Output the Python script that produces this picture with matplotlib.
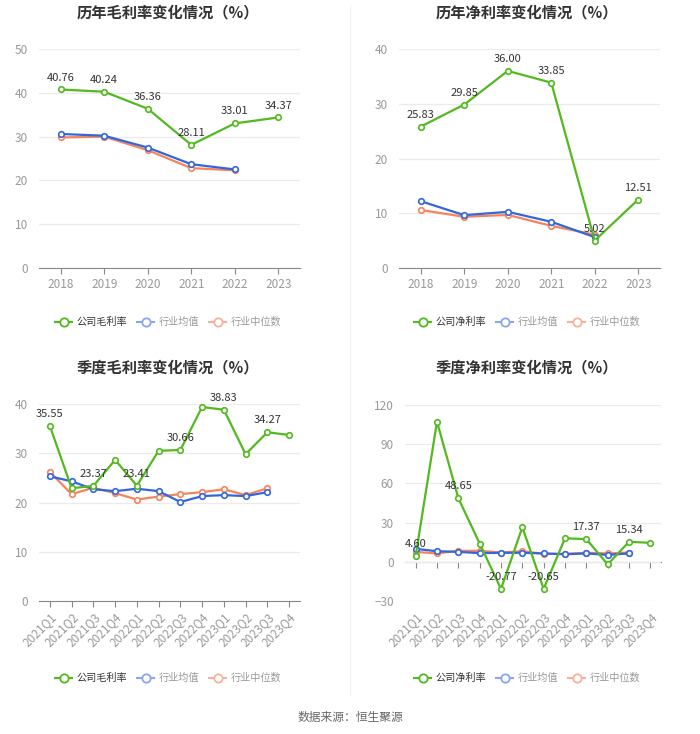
import numpy as np
import matplotlib
matplotlib.use('Agg')
import matplotlib.pyplot as plt
from matplotlib.lines import Line2D

plt.rcParams['font.family'] = ['Noto Sans CJK SC', 'DejaVu Sans']

# dati annuali
anni = ['2018', '2019', '2020', '2021', '2022', '2023']
mol_azienda = [40.76, 40.24, 36.36, 28.11, 33.01, 34.37]
mol_media = [30.6, 30.2, 27.5, 23.7, 22.5]
mol_mediana = [29.8, 30.0, 26.9, 22.8, 22.3]

net_azienda = [25.83, 29.85, 36.00, 33.85, 5.02, 12.51]
net_media = [12.2, 9.65, 10.26, 8.44, 5.64]
net_mediana = [10.6, 9.35, 9.7, 7.7, 6.1]

# dati trimestrali
trim = ['2021Q1', '2021Q2', '2021Q3', '2021Q4', '2022Q1', '2022Q2',
        '2022Q3', '2022Q4', '2023Q1', '2023Q2', '2023Q3', '2023Q4']
qmol_azienda = [35.55, 22.9, 23.37, 28.65, 23.41, 30.5, 30.66, 39.4, 38.83, 29.8, 34.27, 33.7]
qmol_media = [25.3, 24.3, 22.7, 22.3, 22.8, 22.3, 20.1, 21.3, 21.5, 21.3, 22.1]
qmol_mediana = [26.2, 21.7, 23.0, 21.9, 20.6, 21.2, 21.7, 22.1, 22.7, 21.5, 22.9]

qnet_azienda = [4.60, 107.3, 48.65, 14.0, -20.77, 26.4, -20.65, 18.0, 17.37, -2.0, 15.34, 14.5]
qnet_media = [9.9, 8.1, 7.6, 6.6, 6.9, 6.9, 6.4, 5.8, 6.4, 5.3, 6.4]
qnet_mediana = [7.6, 6.4, 8.4, 8.4, 7.1, 8.1, 6.1, 6.1, 6.9, 6.4, 7.1]

VERDE = '#52b91f'
BLU = '#3366dd'
ARANCIO = '#f5845a'
GRIGIO = '#999999'

W, H = 700, 734
fig = plt.figure(figsize=(7, 7.34), dpi=100)


def pannello(box, cats, azienda, media, mediana, ylim, yticks, titolo, nome, tx, ty,
             ly, etichette, ruota=False):
    x0, x1, ytop, ybot = box
    ax = fig.add_axes([x0 / W, 1 - ybot / H, (x1 - x0) / W, (ybot - ytop) / H])
    x = np.arange(len(cats))
    ax.plot(x[:len(mediana)], mediana, color=ARANCIO, lw=1.6, marker='o', ms=4,
            mfc='white', mew=1.2, zorder=3)
    ax.plot(x[:len(media)], media, color=BLU, lw=1.6, marker='o', ms=4,
            mfc='white', mew=1.2, zorder=3)
    ax.plot(x, azienda, color=VERDE, lw=1.6, marker='o', ms=4,
            mfc='white', mew=1.2, zorder=4)
    for i in etichette:
        ax.annotate('%.2f' % azienda[i], (x[i], azienda[i]), xytext=(0, 5),
                    textcoords='offset points', ha='center', va='bottom',
                    fontsize=8, color='#333333', zorder=5)
    ax.set_xlim(-0.5, len(cats) - 0.5)
    ax.set_ylim(*ylim)
    ax.set_yticks(yticks)
    for s in ['top', 'right', 'left', 'bottom']:
        ax.spines[s].set_visible(False)
    ax.grid(axis='y', color='#ebebeb', lw=0.9)
    ax.set_axisbelow(True)
    ax.tick_params(axis='both', colors=GRIGIO, labelsize=8.5, length=0)
    ax.tick_params(axis='y', pad=8)
    ax.tick_params(axis='x', pad=7)
    # linea dell'asse allo zero, con le tacche
    asse = ax.secondary_xaxis((0 - ylim[0]) / (ylim[1] - ylim[0]))
    asse.set_xticks(x)
    asse.set_xticklabels([])
    asse.tick_params(axis='x', length=4, color='#888888')
    asse.spines['bottom'].set_color('#888888')
    if ruota:
        ax.set_xticks(x, cats, rotation=45, ha='right', rotation_mode='anchor')
    else:
        ax.set_xticks(x, cats)
    fig.text(tx / W, 1 - ty / H, titolo, ha='center', va='center',
             fontsize=11, fontweight='bold', color='#333333')
    maniglie = [
        Line2D([], [], color=VERDE, lw=1.5, marker='o', ms=6, mfc='white', mew=1.3),
        Line2D([], [], color='#8aa6ee', lw=1.5, marker='o', ms=6, mfc='white', mew=1.3),
        Line2D([], [], color='#f7b29a', lw=1.5, marker='o', ms=6, mfc='white', mew=1.3),
    ]
    leg = fig.legend(maniglie, [nome, '行业均值', '行业中位数'], loc='center',
                     bbox_to_anchor=(tx / W, 1 - ly / H), ncol=3, frameon=False,
                     fontsize=7.3, handlelength=1.7, handletextpad=0.4,
                     columnspacing=1.0)
    for t, c in zip(leg.get_texts(), ['#333333', GRIGIO, GRIGIO]):
        t.set_color(c)
    return ax


pannello((39, 300, 49, 268), anni, mol_azienda, mol_media, mol_mediana,
         (0, 50), [0, 10, 20, 30, 40, 50], '历年毛利率变化情况（%）', '公司毛利率',
         168, 12, 322, range(6))
pannello((399, 660, 49, 268), anni, net_azienda, net_media, net_mediana,
         (0, 40), [0, 10, 20, 30, 40], '历年净利率变化情况（%）', '公司净利率',
         527, 12, 322, range(6))
pannello((39, 300, 404, 601), trim, qmol_azienda, qmol_media, qmol_mediana,
         (0, 40), [0, 10, 20, 30, 40], '季度毛利率变化情况（%）', '公司毛利率',
         168, 367, 678, range(0, 12, 2), ruota=True)
pannello((405, 661, 405, 601), trim, qnet_azienda, qnet_media, qnet_mediana,
         (-30, 120), [-30, 0, 30, 60, 90, 120], '季度净利率变化情况（%）', '公司净利率',
         527, 367, 678, range(0, 12, 2), ruota=True)

# separatore verticale
fig.add_artist(Line2D([350 / W, 350 / W], [1 - 5 / H, 1 - 695 / H],
                      color='#f2f2f2', lw=0.8))

fig.text(0.5, 1 - 717 / H, '数据来源：恒生聚源', ha='center', va='center',
         fontsize=8.5, color='#666666')

fig.savefig('out.png', dpi=100)
